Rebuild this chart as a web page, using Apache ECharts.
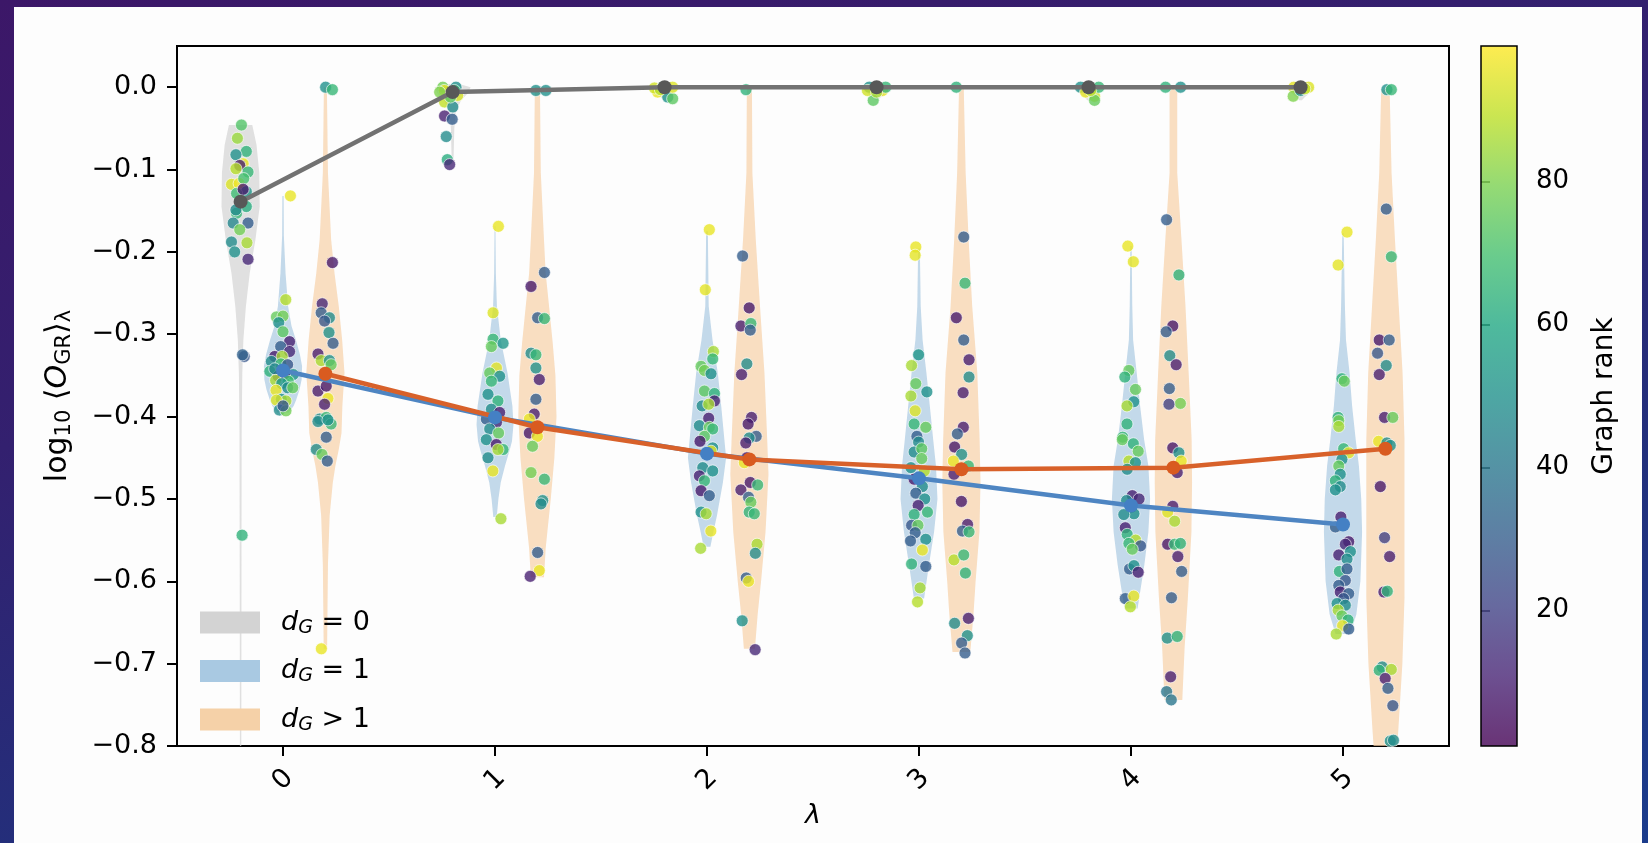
<!DOCTYPE html>
<html lang="en">
<head>
    <meta charset="UTF-8">
    <title>violin</title>
    <script src="https://cdn.jsdelivr.net/npm/echarts@6/dist/echarts.min.js"></script>
    <style>
        html, body { margin: 0; padding: 0; }
        body {
            width: 1648px; height: 843px; overflow: hidden; position: relative;
            background: linear-gradient(165deg, #3c1768 0%, #33206f 35%, #22307c 70%, #1b3c8c 100%);
        }
        #panel { position: absolute; left: 14px; top: 7px; width: 1628px; height: 836px; background: #fdfdfd; }
        #chart { position: absolute; left: 0; top: 0; width: 1648px; height: 843px; }
    </style>
</head>
<body>
    <div id="panel"></div>
    <div id="chart"></div>
    <script>
        // x tick labels (lambda)
        const lambdas = [0, 1, 2, 3, 4, 5];
        const yTicks = [-0.8, -0.7, -0.6, -0.5, -0.4, -0.3, -0.2, -0.1, 0.0];
        const rankTicks = [20, 40, 60, 80];

        // mean lines (pointplot)
        const meanX0 = [-0.2, 0.8, 1.8, 2.8, 3.8, 4.8];
        const mean0 = [-0.139, -0.006, 0.0, 0.0, 0.0, 0.0];
        const meanX1 = [0, 1, 2, 3, 4, 5];
        const mean1 = [-0.344, -0.401, -0.445, -0.475, -0.508, -0.531];
        const meanX2 = [0.2, 1.2, 2.2, 3.2, 4.2, 5.2];
        const mean2 = [-0.348, -0.413, -0.452, -0.464, -0.462, -0.439];

        // violin outlines: [y, half width] from top to bottom, one list per lambda
        const vio0 = [
            [[-0.046,0.055],[-0.07,0.075],[-0.104,0.088],[-0.145,0.09],[-0.185,0.07],[-0.226,0.043],[-0.266,0.025],[-0.307,0.013],[-0.347,0.008],[-0.42,0.005],[-0.6,0.004],[-0.86,0.003]],
            [[0.004,0.03],[0.0,0.085],[-0.008,0.07],[-0.016,0.04],[-0.03,0.015],[-0.05,0.008],[-0.093,0.004]],
            [[0.003,0.03],[0.0,0.06],[-0.006,0.05],[-0.012,0.02],[-0.016,0.006]],
            [[0.003,0.03],[0.0,0.06],[-0.006,0.05],[-0.012,0.02],[-0.016,0.006]],
            [[0.003,0.03],[0.0,0.06],[-0.006,0.05],[-0.012,0.02],[-0.016,0.006]],
            [[0.003,0.03],[0.0,0.06],[-0.006,0.05],[-0.012,0.02],[-0.016,0.006]]
        ];
        const vio1 = [
            [[-0.132,0.003],[-0.18,0.004],[-0.226,0.012],[-0.266,0.024],[-0.29,0.04],[-0.307,0.061],[-0.325,0.08],[-0.339,0.09],[-0.355,0.088],[-0.367,0.078],[-0.38,0.062],[-0.387,0.05],[-0.395,0.027]],
            [[-0.169,0.002],[-0.226,0.004],[-0.266,0.009],[-0.307,0.027],[-0.347,0.059],[-0.387,0.082],[-0.41,0.087],[-0.43,0.08],[-0.44,0.07],[-0.46,0.047],[-0.48,0.027],[-0.50,0.016],[-0.522,0.008]],
            [[-0.175,0.004],[-0.266,0.008],[-0.307,0.026],[-0.347,0.051],[-0.387,0.067],[-0.428,0.082],[-0.45,0.09],[-0.48,0.075],[-0.52,0.047],[-0.54,0.03],[-0.558,0.016]],
            [[-0.196,0.004],[-0.266,0.008],[-0.307,0.017],[-0.347,0.035],[-0.387,0.051],[-0.428,0.067],[-0.46,0.08],[-0.50,0.087],[-0.54,0.071],[-0.58,0.047],[-0.621,0.024]],
            [[-0.193,0.003],[-0.266,0.006],[-0.307,0.01],[-0.347,0.027],[-0.387,0.043],[-0.428,0.062],[-0.46,0.082],[-0.50,0.09],[-0.54,0.082],[-0.58,0.063],[-0.633,0.031]],
            [[-0.177,0.003],[-0.266,0.009],[-0.307,0.014],[-0.347,0.031],[-0.387,0.043],[-0.428,0.06],[-0.46,0.075],[-0.50,0.086],[-0.54,0.09],[-0.60,0.082],[-0.64,0.063],[-0.664,0.035]]
        ];
        const vio2 = [
            [[0.0,0.007],[-0.104,0.012],[-0.185,0.027],[-0.226,0.043],[-0.266,0.063],[-0.307,0.079],[-0.347,0.09],[-0.387,0.08],[-0.42,0.076],[-0.44,0.063],[-0.46,0.047],[-0.48,0.035],[-0.52,0.02],[-0.58,0.012],[-0.682,0.008]],
            [[0.0,0.012],[-0.104,0.016],[-0.185,0.031],[-0.226,0.039],[-0.266,0.055],[-0.31,0.072],[-0.35,0.085],[-0.40,0.09],[-0.45,0.08],[-0.50,0.063],[-0.56,0.039],[-0.595,0.031]],
            [[0.0,0.012],[-0.104,0.014],[-0.185,0.03],[-0.266,0.05],[-0.347,0.071],[-0.428,0.084],[-0.47,0.09],[-0.54,0.076],[-0.60,0.055],[-0.64,0.039],[-0.682,0.026]],
            [[0.0,0.011],[-0.104,0.02],[-0.185,0.034],[-0.266,0.051],[-0.347,0.075],[-0.428,0.086],[-0.48,0.09],[-0.54,0.085],[-0.60,0.067],[-0.64,0.057],[-0.686,0.042]],
            [[0.0,0.018],[-0.104,0.018],[-0.185,0.038],[-0.266,0.057],[-0.347,0.072],[-0.428,0.086],[-0.48,0.088],[-0.54,0.085],[-0.621,0.068],[-0.68,0.053],[-0.744,0.042]],
            [[-0.003,0.02],[-0.104,0.029],[-0.185,0.045],[-0.266,0.063],[-0.347,0.081],[-0.428,0.09],[-0.62,0.09],[-0.70,0.08],[-0.78,0.061],[-0.86,0.04]]
        ];

        // individual graphs: [x (jittered), log10 <O>, graph rank]
        const pts0 = [
            // lambda 0
            [-0.196,-0.046,72],[-0.215,-0.062,84],[-0.173,-0.078,64],[-0.222,-0.082,50],[-0.188,-0.093,96],[-0.204,-0.095,10],[-0.165,-0.103,66],[-0.222,-0.099,88],[-0.243,-0.118,94],[-0.207,-0.117,97],[-0.185,-0.111,70],[-0.173,-0.127,52],[-0.219,-0.129,68],[-0.188,-0.124,8],[-0.173,-0.145,62],[-0.219,-0.153,66],[-0.235,-0.165,46],[-0.165,-0.165,30],[-0.204,-0.173,78],[-0.243,-0.188,48],[-0.170,-0.189,86],[-0.228,-0.200,50],[-0.165,-0.209,12],[-0.222,-0.149,48],[-0.183,-0.327,28],[-0.191,-0.325,32],[-0.193,-0.544,64],
            // lambda 1
            [0.754,0.0,78],[0.761,-0.004,95],[0.816,0.0,50],[0.824,-0.01,93],[0.762,-0.018,90],[0.801,-0.024,48],[0.762,-0.035,10],[0.798,-0.039,30],[0.770,-0.060,48],[0.775,-0.088,62],[0.786,-0.094,12],[0.809,-0.004,66],[0.739,-0.006,80],[0.79,-0.012,74],
            // lambda 2
            [1.767,-0.006,96],[1.752,-0.001,92],[1.815,-0.012,50],[1.838,-0.014,74],[1.838,0.0,94],[1.791,0.0,64],[1.78,-0.003,88],
            // lambda 3
            [2.765,0.0,50],[2.828,-0.004,95],[2.784,-0.016,74],[2.843,0.0,66],[2.757,-0.004,92],[2.80,-0.006,86],
            // lambda 4
            [3.762,0.0,50],[3.786,-0.006,96],[3.828,-0.011,92],[3.828,-0.016,76],[3.848,0.0,66],[3.81,-0.004,88],
            // lambda 5
            [4.768,0.0,95],[4.765,-0.011,80],[4.838,0.0,94],[4.80,-0.004,50],[4.82,-0.002,90]
        ];
        const pts1 = [
            // lambda 0
            [0.035,-0.132,96],[0.013,-0.258,88],[-0.031,-0.279,76],[0.0,-0.278,78],[-0.02,-0.286,50],[0.0,-0.297,74],[0.031,-0.309,10],[-0.011,-0.315,30],[0.031,-0.321,12],[-0.039,-0.327,8],[-0.004,-0.327,86],[-0.055,-0.333,48],[-0.01,-0.336,66],[0.022,-0.337,28],[-0.062,-0.345,64],[-0.023,-0.351,10],[0.017,-0.351,66],[0.048,-0.349,50],[-0.039,-0.342,46],[0.008,-0.348,8],[-0.035,-0.356,86],[0.025,-0.357,70],[-0.006,-0.360,52],[0.022,-0.365,48],[-0.033,-0.368,96],[0.046,-0.365,76],[-0.008,-0.379,50],[0.014,-0.381,86],[-0.031,-0.380,94],[-0.017,-0.392,48],[0.014,-0.393,78],[0.0,-0.387,28],
            // lambda 1
            [1.016,-0.169,96],[0.991,-0.274,94],[0.991,-0.306,66],[0.983,-0.315,76],[1.038,-0.311,52],[1.007,-0.341,95],[0.975,-0.347,76],[1.022,-0.351,50],[0.983,-0.357,66],[0.967,-0.373,50],[1.014,-0.381,64],[0.983,-0.391,48],[1.022,-0.395,10],[0.959,-0.403,30],[1.007,-0.407,12],[0.975,-0.415,48],[1.017,-0.420,76],[0.959,-0.428,50],[1.006,-0.434,8],[1.038,-0.440,66],[1.014,-0.440,86],[0.967,-0.450,48],[0.990,-0.466,96],[1.028,-0.524,86],
            // lambda 2
            [2.011,-0.173,96],[1.992,-0.246,95],[2.03,-0.321,86],[2.027,-0.330,66],[1.972,-0.339,76],[1.988,-0.344,78],[2.019,-0.348,50],[1.988,-0.369,74],[2.035,-0.372,64],[2.035,-0.381,10],[1.977,-0.387,48],[2.008,-0.385,86],[2.008,-0.402,10],[1.964,-0.411,48],[2.011,-0.413,76],[2.027,-0.415,66],[1.988,-0.424,74],[1.967,-0.430,8],[2.027,-0.438,50],[2.019,-0.442,95],[1.980,-0.462,48],[2.027,-0.466,50],[1.964,-0.472,10],[1.988,-0.478,66],[1.972,-0.490,8],[2.011,-0.496,30],[1.972,-0.516,50],[1.996,-0.518,86],[2.018,-0.539,96],[1.970,-0.560,86],
            // lambda 3
            [2.985,-0.194,96],[2.982,-0.204,95],[2.998,-0.325,52],[2.965,-0.338,86],[2.985,-0.360,76],[3.037,-0.370,50],[2.962,-0.375,86],[2.982,-0.393,94],[2.977,-0.409,66],[3.032,-0.413,76],[2.990,-0.424,30],[2.998,-0.431,48],[2.977,-0.443,48],[3.013,-0.439,74],[3.013,-0.451,76],[2.962,-0.462,50],[3.025,-0.466,88],[2.977,-0.476,8],[3.016,-0.485,48],[2.985,-0.493,30],[3.027,-0.500,50],[2.996,-0.508,10],[2.977,-0.519,64],[3.040,-0.516,66],[2.965,-0.532,28],[2.995,-0.532,76],[2.982,-0.541,30],[3.032,-0.549,50],[2.960,-0.551,30],[3.016,-0.562,96],[2.965,-0.579,64],[3.032,-0.582,30],[3.005,-0.608,86],[2.993,-0.625,88],
            // lambda 4
            [3.985,-0.193,96],[4.011,-0.212,95],[3.99,-0.344,76],[3.971,-0.352,64],[4.021,-0.367,76],[4.013,-0.382,50],[3.981,-0.387,86],[3.981,-0.409,64],[3.961,-0.425,66],[3.959,-0.428,76],[4.011,-0.433,64],[4.034,-0.442,76],[3.990,-0.454,88],[4.021,-0.456,50],[3.982,-0.464,48],[4.006,-0.496,10],[4.038,-0.500,12],[3.979,-0.502,48],[4.003,-0.510,30],[4.014,-0.518,50],[3.966,-0.519,48],[3.973,-0.535,10],[3.982,-0.543,64],[4.022,-0.550,88],[3.99,-0.554,66],[4.045,-0.557,28],[4.006,-0.561,76],[3.993,-0.585,30],[4.014,-0.581,50],[4.034,-0.589,10],[3.973,-0.621,30],[4.013,-0.618,96],[3.997,-0.631,88],
            // lambda 5
            [5.019,-0.176,96],[4.977,-0.216,95],[4.995,-0.354,64],[5.006,-0.357,76],[4.977,-0.401,64],[4.980,-0.405,78],[4.980,-0.412,86],[5.003,-0.439,66],[5.027,-0.444,95],[4.995,-0.452,50],[4.980,-0.460,76],[4.987,-0.470,50],[4.964,-0.478,64],[4.987,-0.485,48],[4.964,-0.489,50],[4.990,-0.522,10],[4.964,-0.534,30],[5.027,-0.552,8],[5.011,-0.555,12],[4.980,-0.568,10],[5.035,-0.564,50],[5.019,-0.573,48],[4.983,-0.588,64],[5.019,-0.585,30],[5.011,-0.599,28],[4.980,-0.605,30],[4.987,-0.613,10],[5.027,-0.615,30],[5.003,-0.621,28],[4.972,-0.627,50],[5.011,-0.629,48],[4.977,-0.635,86],[4.995,-0.642,76],[5.024,-0.647,64],[4.998,-0.654,96],[4.968,-0.664,86],[5.027,-0.658,30]
        ];
        const pts2 = [
            // lambda 0
            [0.201,0.0,50],[0.233,-0.003,66],[0.233,-0.213,8],[0.185,-0.263,12],[0.18,-0.274,30],[0.219,-0.280,48],[0.196,-0.284,28],[0.217,-0.298,50],[0.236,-0.311,30],[0.165,-0.324,10],[0.18,-0.332,86],[0.219,-0.332,50],[0.227,-0.337,76],[0.165,-0.369,10],[0.204,-0.363,8],[0.212,-0.378,96],[0.196,-0.385,10],[0.173,-0.403,48],[0.204,-0.401,66],[0.227,-0.409,66],[0.165,-0.406,48],[0.212,-0.404,50],[0.204,-0.425,30],[0.157,-0.440,48],[0.184,-0.446,76],[0.209,-0.454,30],[0.181,-0.682,96],
            // lambda 1
            [1.193,-0.004,50],[1.240,-0.004,50],[1.233,-0.225,30],[1.170,-0.242,8],[1.201,-0.280,30],[1.233,-0.281,66],[1.170,-0.323,48],[1.193,-0.325,66],[1.193,-0.341,50],[1.209,-0.355,10],[1.193,-0.379,30],[1.185,-0.397,10],[1.162,-0.403,96],[1.162,-0.420,8],[1.2,-0.424,96],[1.177,-0.436,76],[1.170,-0.468,78],[1.233,-0.476,66],[1.225,-0.502,50],[1.217,-0.506,48],[1.201,-0.565,30],[1.209,-0.587,96],[1.166,-0.594,10],
            // lambda 2
            [2.184,-0.003,64],[2.168,-0.205,30],[2.199,-0.268,8],[2.160,-0.290,10],[2.207,-0.287,66],[2.204,-0.295,30],[2.188,-0.336,48],[2.163,-0.349,10],[2.210,-0.401,10],[2.194,-0.409,8],[2.232,-0.424,30],[2.199,-0.426,48],[2.183,-0.432,10],[2.188,-0.450,8],[2.176,-0.456,96],[2.204,-0.480,8],[2.160,-0.489,10],[2.239,-0.483,66],[2.196,-0.498,30],[2.207,-0.504,76],[2.199,-0.516,64],[2.223,-0.518,66],[2.236,-0.555,86],[2.228,-0.566,48],[2.185,-0.596,30],[2.196,-0.600,96],[2.166,-0.648,50],[2.227,-0.683,12],
            // lambda 3
            [3.176,0.0,64],[3.211,-0.182,30],[3.217,-0.238,66],[3.176,-0.280,8],[3.211,-0.307,30],[3.236,-0.331,10],[3.236,-0.352,48],[3.208,-0.371,10],[3.209,-0.413,10],[3.181,-0.421,30],[3.168,-0.437,8],[3.201,-0.446,50],[3.162,-0.454,96],[3.233,-0.460,66],[3.165,-0.470,10],[3.200,-0.503,8],[3.229,-0.531,10],[3.205,-0.539,30],[3.236,-0.540,66],[3.165,-0.574,88],[3.211,-0.568,66],[3.219,-0.590,64],[3.168,-0.651,48],[3.233,-0.645,10],[3.228,-0.666,50],[3.201,-0.675,30],[3.217,-0.687,30],
            // lambda 4
            [4.163,0.0,64],[4.234,0.0,50],[4.168,-0.161,30],[4.226,-0.228,64],[4.197,-0.290,8],[4.166,-0.297,30],[4.183,-0.326,48],[4.213,-0.337,10],[4.181,-0.366,30],[4.233,-0.384,78],[4.179,-0.385,20],[4.197,-0.438,8],[4.226,-0.444,50],[4.237,-0.454,96],[4.218,-0.468,10],[4.197,-0.509,10],[4.173,-0.516,94],[4.206,-0.527,86],[4.173,-0.555,8],[4.206,-0.555,66],[4.233,-0.554,64],[4.221,-0.570,10],[4.239,-0.588,30],[4.191,-0.620,30],[4.171,-0.669,50],[4.218,-0.667,64],[4.187,-0.716,10],[4.168,-0.734,40],[4.190,-0.744,40],
            // lambda 5
            [5.207,-0.003,50],[5.228,-0.003,66],[5.204,-0.148,30],[5.228,-0.206,66],[5.171,-0.307,8],[5.218,-0.307,30],[5.163,-0.323,28],[5.204,-0.338,48],[5.171,-0.349,10],[5.196,-0.401,10],[5.235,-0.401,76],[5.168,-0.430,96],[5.207,-0.432,48],[5.223,-0.435,50],[5.176,-0.485,8],[5.196,-0.547,20],[5.220,-0.570,10],[5.193,-0.613,10],[5.209,-0.612,64],[5.185,-0.704,48],[5.171,-0.708,64],[5.228,-0.707,86],[5.199,-0.718,10],[5.212,-0.730,30],[5.235,-0.751,28],[5.223,-0.794,50],[5.238,-0.793,48]
        ];

        const viridis = ['#440154', '#482475', '#414487', '#355f8d', '#2a788e', '#21918c', '#22a884', '#44bf70', '#7ad151', '#bddf26', '#fde725'];
        const rankMin = 1, rankMax = 99;
        const FONT = 'DejaVu Sans';

        const myChart = echarts.init(document.getElementById('chart'));

        function violinItem(profiles, centers, fill) {
            return function (params, api) {
                const prof = profiles[params.dataIndex];
                const cx = centers[params.dataIndex];
                const right = prof.map(p => api.coord([cx + p[1], p[0]]));
                const left = prof.slice().reverse().map(p => api.coord([cx - p[1], p[0]]));
                return {
                    type: 'polygon',
                    shape: { points: right.concat(left) },
                    style: { fill: fill, stroke: null }
                };
            };
        }

        function violinSeries(name, profiles, centers, fill, legendColor) {
            return {
                name: name,
                type: 'custom',
                xAxisIndex: 0, yAxisIndex: 0,
                clip: true,
                z: 1,
                silent: true,
                itemStyle: { color: legendColor },
                renderItem: violinItem(profiles, centers, fill),
                data: centers.map(c => [c, 0])
            };
        }

        function pointSeries(name, data) {
            return {
                name: name,
                type: 'scatter',
                xAxisIndex: 0, yAxisIndex: 0,
                z: 2,
                symbolSize: 12,
                itemStyle: { opacity: 0.8, borderColor: '#ffffff', borderWidth: 0.8 },
                data: data
            };
        }

        function meanSeries(name, xs, ys, lineColor, dotColor) {
            return {
                name: name,
                type: 'line',
                xAxisIndex: 0, yAxisIndex: 0,
                z: 4,
                symbol: 'circle',
                symbolSize: 14,
                showSymbol: true,
                lineStyle: { color: lineColor, width: 4.5 },
                itemStyle: { color: dotColor },
                data: xs.map((x, i) => [x, ys[i]])
            };
        }

        const fmtY = v => (v < -1e-9 ? '\u2212' : '') + Math.abs(v).toFixed(1);

        const option = {
            animation: false,
            backgroundColor: 'transparent',
            textStyle: { fontFamily: FONT },
            grid: [
                { left: 177, top: 46, width: 1272, height: 700, show: true, borderColor: '#000', borderWidth: 2, backgroundColor: 'transparent' },
                { left: 1481, top: 46, width: 36, height: 700 }
            ],
            legend: {
                data: ['d0', 'd1', 'd2'],
                orient: 'vertical',
                left: 200, top: 609,
                padding: 0,
                itemWidth: 60, itemHeight: 22, itemGap: 20,
                icon: 'rect',
                formatter: function (name) {
                    const tail = { d0: ' = 0', d1: ' = 1', d2: ' > 1' }[name];
                    return '{i|d}{s|G}{n|' + tail + '}';
                },
                textStyle: {
                    padding: [0, 0, 0, 16],
                    rich: {
                        i: { fontFamily: FONT, fontStyle: 'italic', fontSize: 27, color: '#000', lineHeight: 30, verticalAlign: 'middle' },
                        s: { fontFamily: FONT, fontStyle: 'italic', fontSize: 19, color: '#000', lineHeight: 14, verticalAlign: 'bottom' },
                        n: { fontFamily: FONT, fontSize: 27, color: '#000', lineHeight: 30, verticalAlign: 'middle' }
                    }
                }
            },
            visualMap: {
                type: 'continuous',
                show: false,
                min: rankMin, max: rankMax,
                dimension: 2,
                seriesIndex: [3, 4, 5],
                inRange: { color: viridis }
            },
            xAxis: [
                {
                    type: 'value', gridIndex: 0, min: -0.5, max: 5.5,
                    name: 'λ', nameLocation: 'middle', nameGap: 56,
                    nameTextStyle: { fontFamily: FONT, fontSize: 27, fontStyle: 'italic', color: '#000' },
                    splitLine: { show: false },
                    axisLine: { show: true, onZero: false, lineStyle: { color: '#000', width: 2 } },
                    axisTick: { show: true, length: 10, lineStyle: { color: '#000', width: 2 }, customValues: lambdas },
                    axisLabel: {
                        fontFamily: FONT, fontSize: 27, color: '#000', rotate: 45, margin: 34,
                        align: 'center', verticalAlign: 'middle',
                        customValues: lambdas, formatter: v => String(v)
                    }
                },
                { type: 'value', gridIndex: 1, min: 0, max: 1, show: false }
            ],
            yAxis: [
                {
                    type: 'value', gridIndex: 0, min: -0.8, max: 0.05,
                    name: 'log{s|10} ⟨{i|O}{s|GR}⟩{s|λ}',
                    nameLocation: 'middle', nameGap: 102, nameRotate: 90,
                    nameTextStyle: {
                        fontFamily: FONT, fontSize: 30, color: '#000',
                        rich: {
                            i: { fontFamily: FONT, fontStyle: 'italic', fontSize: 30, color: '#000', lineHeight: 34, verticalAlign: 'middle' },
                            s: { fontFamily: FONT, fontSize: 21, color: '#000', lineHeight: 15, verticalAlign: 'bottom' }
                        }
                    },
                    splitLine: { show: false },
                    axisLine: { show: true, onZero: false, lineStyle: { color: '#000', width: 2 } },
                    axisTick: { show: true, length: 10, lineStyle: { color: '#000', width: 2 }, customValues: yTicks },
                    axisLabel: { fontFamily: FONT, fontSize: 27, color: '#000', margin: 20, customValues: yTicks, formatter: fmtY }
                },
                {
                    type: 'value', gridIndex: 1, min: rankMin, max: rankMax, position: 'right',
                    name: 'Graph rank', nameLocation: 'middle', nameGap: 74, nameRotate: 90,
                    nameTextStyle: { fontFamily: FONT, fontSize: 28, color: '#000' },
                    splitLine: { show: false },
                    axisLine: { show: false },
                    axisTick: { show: true, length: 9, lineStyle: { color: '#000', width: 1.5 }, customValues: rankTicks },
                    axisLabel: { fontFamily: FONT, fontSize: 26, color: '#000', margin: 19, customValues: rankTicks }
                }
            ],
            series: [
                violinSeries('d0', vio0, meanX0, 'rgba(211,211,211,0.7)', '#d3d3d3'),
                violinSeries('d1', vio1, meanX1, 'rgba(166,199,224,0.68)', '#a9c9e2'),
                violinSeries('d2', vio2, meanX2, 'rgba(246,208,166,0.7)', '#f5d1a8'),
                pointSeries('pts0', pts0),
                pointSeries('pts1', pts1),
                pointSeries('pts2', pts2),
                meanSeries('mean0', meanX0, mean0, '#727272', '#585858'),
                meanSeries('mean1', meanX1, mean1, '#4e85c2', '#4480c4'),
                meanSeries('mean2', meanX2, mean2, '#d8612a', '#d95b20'),
                {
                    name: 'colorbar',
                    type: 'custom',
                    xAxisIndex: 1, yAxisIndex: 1,
                    silent: true,
                    renderItem: function (params, api) {
                        const p1 = api.coord([0, api.value(2)]);
                        const p2 = api.coord([1, api.value(1)]);
                        const stops = viridis.map((c, i) => ({ offset: 1 - i / (viridis.length - 1), color: c }));
                        return {
                            type: 'rect',
                            shape: { x: p1[0], y: p1[1], width: p2[0] - p1[0], height: p2[1] - p1[1] },
                            style: {
                                fill: { type: 'linear', x: 0, y: 0, x2: 0, y2: 1, colorStops: stops.reverse() },
                                opacity: 0.8
                            }
                        };
                    },
                    data: [[0, rankMin, rankMax]]
                },
                {
                    name: 'colorbarFrame',
                    type: 'custom',
                    xAxisIndex: 1, yAxisIndex: 1,
                    silent: true,
                    z: 3,
                    renderItem: function (params, api) {
                        const p1 = api.coord([0, api.value(2)]);
                        const p2 = api.coord([1, api.value(1)]);
                        return {
                            type: 'rect',
                            shape: { x: p1[0], y: p1[1], width: p2[0] - p1[0], height: p2[1] - p1[1] },
                            style: { fill: null, stroke: '#000', lineWidth: 1.5 }
                        };
                    },
                    data: [[0, rankMin, rankMax]]
                }
            ]
        };

        myChart.setOption(option);
    </script>
</body>
</html>
